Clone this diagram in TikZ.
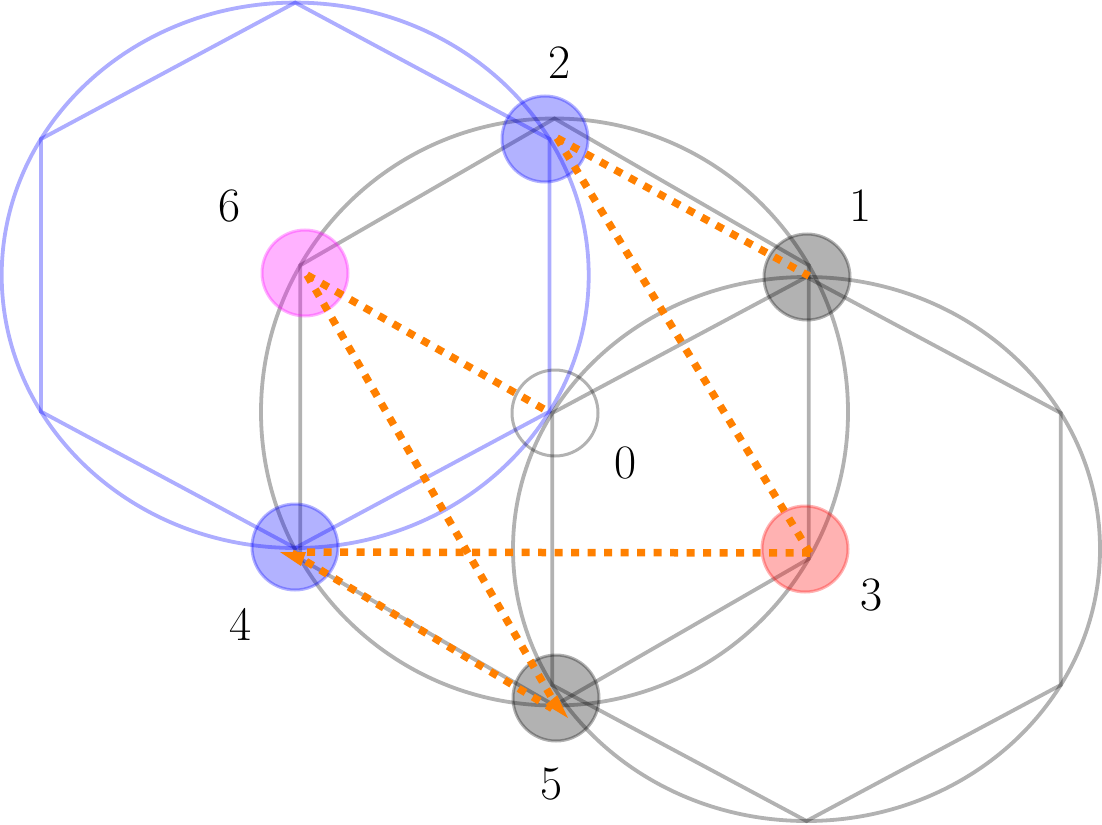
\documentclass[tikz,border=0pt]{standalone}
\usetikzlibrary{arrows.meta}
\definecolor{vmag}{RGB}{255,0,255}
\definecolor{vblue}{RGB}{0,0,255}
\definecolor{vred}{RGB}{255,0,0}
\definecolor{vorange}{RGB}{255,128,0}
\begin{document}
\begin{tikzpicture}[x=1pt,y=-1pt,
  grayline/.style={draw=black,draw opacity=0.3,line width=3.8pt},
  blueline/.style={draw=vblue,draw opacity=0.32,line width=3.8pt},
  vert/.style={circle,minimum size=86pt,inner sep=0pt,line width=3pt},
  gvert/.style={vert,draw=black,draw opacity=0.3,fill=black,fill opacity=0.3},
  bvert/.style={vert,draw=vblue,draw opacity=0.3,fill=vblue,fill opacity=0.3},
  mvert/.style={vert,draw=vmag,draw opacity=0.3,fill=vmag,fill opacity=0.3},
  rvert/.style={vert,draw=vred,draw opacity=0.3,fill=vred,fill opacity=0.3},
  overt/.style={vert,draw=black,draw opacity=0.3},
  flow/.style={draw=vorange,line width=7.5pt,dash pattern=on 8pt off 8.5pt},
  tip/.style={-{Kite[harpoon,length=26pt,width=28pt,inset=5pt,line width=0pt]}},
  lbl/.style={font=\rmfamily\fontsize{48}{48}\selectfont,inner sep=0pt}
]
\useasboundingbox (0,0) rectangle (1102,824);
% blue circle and hexagon
\draw[blueline] (295.2,275.3) ellipse [x radius=293.5, y radius=272.7];
\draw[blueline] (295.2,2.6) -- (549.4,139) -- (549.4,411.6) -- (295.2,548) -- (41,411.6) -- (41,139) -- cycle;
% central circle and hexagon
\draw[grayline] (554.5,412) circle [radius=293.5];
\draw[grayline] (554.5,118.5) -- (808.7,265.3) -- (808.7,558.8) -- (554.5,705.5) -- (300.3,558.8) -- (300.3,265.3) -- cycle;
% right circle and hexagon
\draw[grayline] (806.5,549) ellipse [x radius=293.5, y radius=272];
\draw[grayline] (806.5,277) -- (1060.7,413) -- (1060.7,685) -- (806.5,821) -- (552.3,685) -- (552.3,413) -- cycle;
% vertices
\node[bvert] (v2) at (545,139) {};
\node[gvert] (v1) at (807,277) {};
\node[mvert] (v6) at (305,273) {};
\node[overt] (v0) at (555,413) {};
\node[rvert] (v3) at (805,549) {};
\node[bvert] (v4) at (295,547) {};
\node[gvert] (v5) at (556,698) {};
% labels
\node[lbl] (l2) at (560,63) {2};
\node[lbl] (l1) at (861,206) {1};
\node[lbl] (l6) at (230,206) {6};
\node[lbl] (l0) at (626,463) {0};
\node[lbl] (l3) at (872,595) {3};
\node[lbl] (l4) at (241,624) {4};
\node[lbl] (l5) at (552,784) {5};
% orange connectors
\coordinate (p2) at (557,138);
\coordinate (p1) at (809,276);
\coordinate (p3) at (810,553);
\coordinate (p6) at (307,275);
\coordinate (p0) at (549,412);
\coordinate (p4) at (292,553);
\coordinate (p5) at (553,700);
\coordinate (t4) at (280,552);
\coordinate (t5) at (568,718);
\draw[flow] (p2) -- (p1);
\draw[flow] (p2) -- (p3);
\draw[flow] (p6) -- (p0);
\draw[flow] (p6) -- (p5);
\draw[flow,tip] (p3) -- (t4);
\draw[flow,tip] (p4) -- (t5);
\end{tikzpicture}
\end{document}
